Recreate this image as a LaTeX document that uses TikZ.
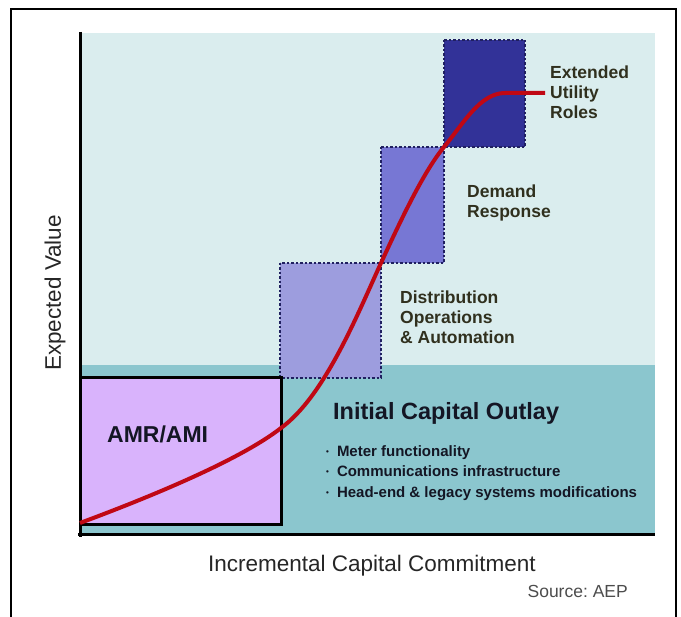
\documentclass[tikz,border=0pt]{standalone}
\usepackage{fontspec}
\setmainfont{Liberation Sans}
\usepackage{tikz}
\usetikzlibrary{positioning}
\frenchspacing

\definecolor{skybg}{RGB}{218,237,238}
\definecolor{tealbg}{RGB}{139,198,206}
\definecolor{amrfill}{RGB}{217,179,252}
\definecolor{distfill}{RGB}{157,157,222}
\definecolor{dmdfill}{RGB}{119,119,212}
\definecolor{extfill}{RGB}{50,50,152}
\definecolor{dotnavy}{RGB}{32,32,96}
\definecolor{curvered}{RGB}{192,8,20}
\definecolor{labtext}{RGB}{48,48,30}
\definecolor{darktext}{RGB}{20,22,36}

% small raised bullet for the outlay list
\newcommand{\outbul}{\raisebox{2.5pt}{\fontsize{8}{8}\selectfont\textbullet}\hspace{8pt}}

\tikzset{
  stagebox/.style={draw=dotnavy, line width=2.5pt, dash pattern=on 2.5pt off 2pt},
  stagelabel/.style={anchor=west, align=left, inner sep=0pt, text=labtext,
    font=\fontsize{17.5}{20}\selectfont\bfseries},
  outitem/.style={anchor=base west, inner sep=0pt, text=darktext,
    font=\fontsize{15}{18}\selectfont\bfseries},
  axislabel/.style={inner sep=0pt, text=black!85, font=\fontsize{22.5}{26}\selectfont}
}

\begin{document}
\begin{tikzpicture}[x=1pt, y=-1pt]
        \useasboundingbox (0,0) rectangle (681,617);

        % Outer frame (open at the bottom)
        \draw[line width=2pt] (11,617) -- (11,9) -- (676,9) -- (676,617);

        % Background bands
        \fill[skybg] (80,33) rectangle (655,365);
        \fill[tealbg] (80,365) rectangle (655,535);

        % Stage boxes
        \fill[distfill] (280,263) rectangle (381,378);
        \draw[stagebox] (280,263) rectangle (381,378);
        \fill[dmdfill] (381,147) rectangle (444,263);
        \draw[stagebox] (381,147) rectangle (444,263);
        \fill[extfill] (444,40) rectangle (525,147);
        \draw[stagebox] (444,40) rectangle (525,147);

        % AMR/AMI box
        \fill[amrfill] (80,378) rectangle (281,525);
        \draw[line width=3pt] (80,378) rectangle (281,525);

        % Axes
        \draw[line width=3pt] (80,32) -- (80,537);
        \draw[line width=3pt] (78,535) -- (655,535);

        % Value curve
        \coordinate (c0) at (80,523);
        \coordinate (c1) at (281,428);
        \coordinate (c2) at (381,263);
        \coordinate (c3) at (444,147);
        \coordinate (c4) at (505,93);
        \coordinate (c5) at (545,93);
        \draw[curvered, line width=4pt]
          (c0) .. controls (150,497) and (240,460) .. (c1)
               .. controls (325,396) and (358,313) .. (c2)
               .. controls (404,213) and (425,170) .. (c3)
               .. controls (463,124) and (480,93) .. (c4) -- (c5);

        % Stage labels
        \node[stagelabel] (ext) at (550,92) {Extended\\Utility\\Roles};
        \node[stagelabel] (dmd) at (467,203) {Demand\\Response};
        \node[stagelabel] (dist) at (400,317) {Distribution\\Operations\\\& Automation};

        % Lower band text
        \node[anchor=base west, inner sep=0pt, text=darktext,
          font=\fontsize{23}{26}\selectfont\bfseries] (amr) at (107,443) {AMR/AMI};
        \node[anchor=base west, inner sep=0pt, text=darktext,
          font=\fontsize{23.5}{26}\selectfont\bfseries] (ico) at (333,420) {Initial Capital Outlay};
        \node[outitem] (b1) at (326,457) {\outbul Meter functionality};
        \node[outitem] (b2) at (326,477) {\outbul Communications infrastructure};
        \node[outitem] (b3) at (326,498) {\outbul Head-end \& legacy systems modifications};

        % Axis labels
        \node[axislabel, rotate=90] (ylab) at (55,293) {Expected Value};
        \node[axislabel, anchor=base] (xlab) at (372,572) {Incremental Capital Commitment};
        \node[anchor=base east, inner sep=0pt, text=black!70,
          font=\fontsize{17.5}{20}\selectfont] (src) at (628,598) {Source: AEP};
    \end{tikzpicture}
\end{document}
